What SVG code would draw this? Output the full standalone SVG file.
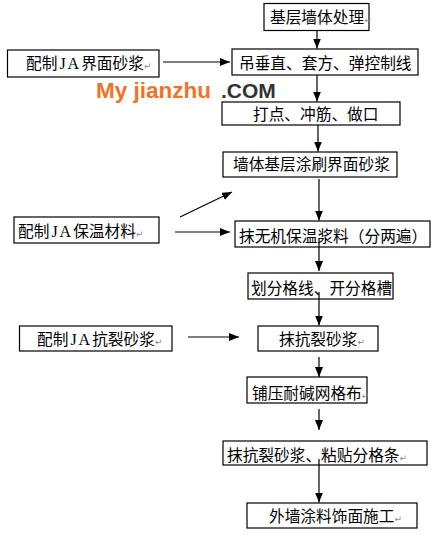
<svg xmlns="http://www.w3.org/2000/svg" width="434" height="537" viewBox="0 0 434 537">
  <style>
    .box { fill: #ffffff; stroke: #000000; stroke-width: 1.2; }
    .t { font-family: "Noto Sans CJK SC", "Noto Sans CJK TC", sans-serif; font-size: 15.7px; fill: #000000; }
    .ja { font-family: "Liberation Serif", serif; font-size: 16px; }
    .rm { font-family: "DejaVu Sans", sans-serif; font-size: 9px; fill: #8a8a8a; }
    .c { stroke: #000000; stroke-width: 1.2; fill: none; marker-end: url(#ah); }
  </style>
  <defs>
    <marker id="ah" markerUnits="userSpaceOnUse" markerWidth="10" markerHeight="8" viewBox="0 0 10 8" refX="10" refY="4" orient="auto">
      <path d="M0,0 L10,4 L0,8 Z" fill="#000000"/>
    </marker>
  </defs>
  <rect width="434" height="537" fill="#ffffff"/>

  <g id="watermark">
    <text x="96" y="98" font-family="Liberation Sans, Arial, sans-serif" font-weight="bold" font-size="22.5px" fill="#f07325">My jianzhu</text>
    <text x="221" y="98" font-family="Liberation Sans, Arial, sans-serif" font-weight="bold" font-size="21px" fill="#333333">.COM</text>
  </g>

  <g id="n1"><rect class="box" x="264" y="3.5" width="105" height="27"/><text class="t" x="270" y="23">基层墙体处理<tspan class="rm">↵</tspan></text></g>
  <g id="n2"><rect class="box" x="232" y="49" width="186" height="26"/><text class="t" x="239" y="69">吊垂直、套方、弹控制线</text></g>
  <g id="n3"><rect class="box" x="7.5" y="50" width="151.5" height="27"/><text class="t" x="26" y="69">配制<tspan class="ja" dx="2">J</tspan><tspan class="ja" dx="2">A</tspan><tspan dx="2">界面砂浆</tspan><tspan class="rm">↵</tspan></text></g>
  <g id="n4"><rect class="box" x="222" y="102" width="178" height="23"/><text class="t" x="253" y="120">打点、冲筋、做口</text></g>
  <g id="n5"><rect class="box" x="223" y="152" width="174" height="25"/><text class="t" x="233" y="170">墙体基层涂刷界面砂浆</text></g>
  <g id="n6"><rect class="box" x="14" y="217" width="145" height="26"/><text class="t" x="18" y="237">配制<tspan class="ja" dx="2">J</tspan><tspan class="ja" dx="2">A</tspan><tspan dx="2">保温材料</tspan><tspan class="rm">↵</tspan></text></g>
  <g id="n7"><rect class="box" x="235" y="221" width="195" height="26"/><text class="t" x="239" y="242">抹无机保温浆料（分两遍）</text></g>
  <g id="n8"><rect class="box" x="248" y="273" width="145" height="26"/><text class="t" x="251" y="294">划分格线、开分格槽</text></g>
  <g id="n9"><rect class="box" x="19.5" y="326" width="152.5" height="25"/><text class="t" x="37" y="345">配制<tspan class="ja" dx="2">J</tspan><tspan class="ja" dx="2">A</tspan><tspan dx="2">抗裂砂浆</tspan><tspan class="rm">↵</tspan></text></g>
  <g id="n10"><rect class="box" x="258" y="326" width="120" height="25"/><text class="t" x="279" y="345">抹抗裂砂浆<tspan class="rm">↵</tspan></text></g>
  <g id="n11"><rect class="box" x="247" y="377" width="120" height="26"/><text class="t" x="252" y="399">铺压耐碱网格布<tspan class="rm">↵</tspan></text></g>
  <g id="n12"><rect class="box" x="223" y="441" width="204" height="24"/><text class="t" x="227" y="461">抹抗裂砂浆、粘贴分格条<tspan class="rm">↵</tspan></text></g>
  <g id="n13"><rect class="box" x="247" y="503" width="170" height="25"/><text class="t" x="269" y="522">外墙涂料饰面施工<tspan class="rm">↵</tspan></text></g>

  <g id="connectors">
    <line class="c" x1="317" y1="30.5" x2="317" y2="48.5"/>
    <line class="c" x1="317" y1="75" x2="317" y2="101.5"/>
    <line class="c" x1="318" y1="125" x2="318" y2="151.5"/>
    <line class="c" x1="319" y1="179" x2="319" y2="220.5"/>
    <line class="c" x1="319" y1="238" x2="319" y2="271"/>
    <line class="c" x1="319" y1="292" x2="319" y2="325.5"/>
    <line class="c" x1="319" y1="357" x2="319" y2="377"/>
    <line class="c" x1="319" y1="409" x2="319" y2="430"/>
    <line class="c" x1="319" y1="459" x2="319" y2="502.5"/>
    <line class="c" x1="163" y1="62" x2="230" y2="62"/>
    <line class="c" x1="180" y1="217" x2="232" y2="192"/>
    <line class="c" x1="175" y1="232" x2="230" y2="232"/>
    <line class="c" x1="188" y1="337" x2="239" y2="337"/>
  </g>
</svg>
